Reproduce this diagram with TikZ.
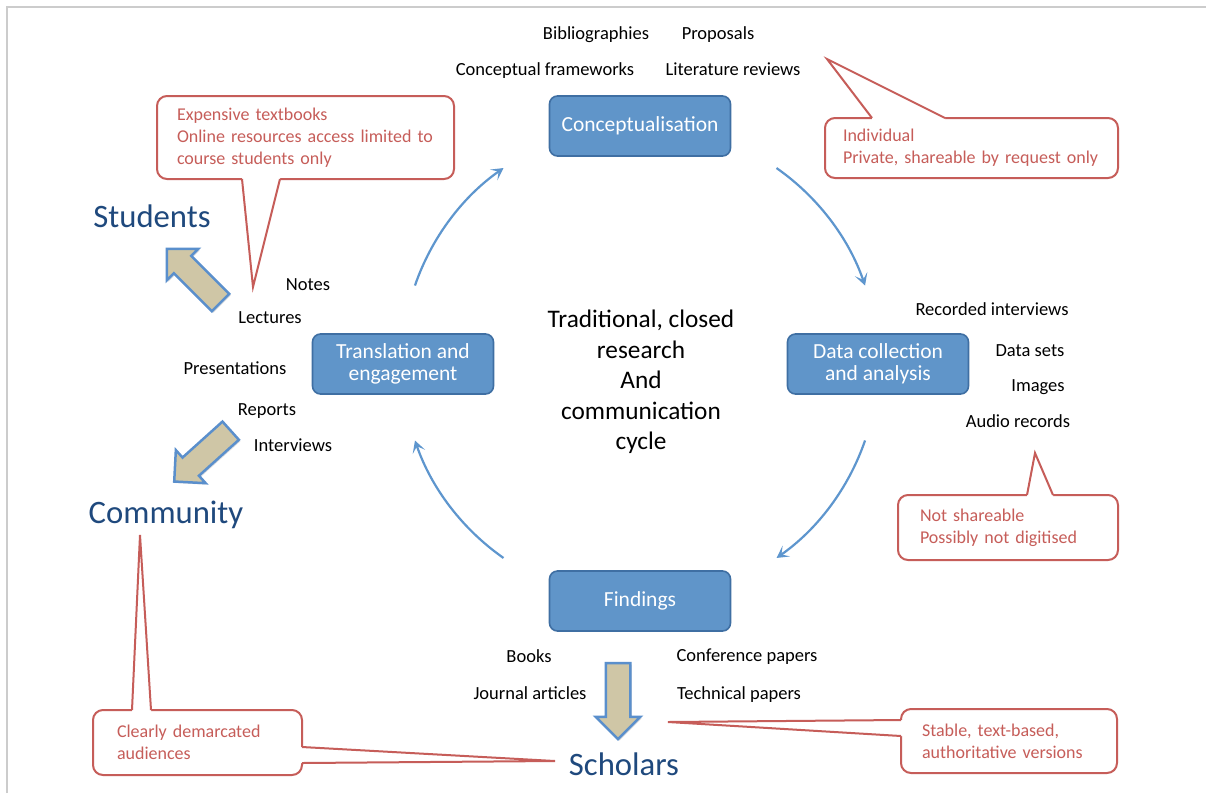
\documentclass[tikz,border=0pt]{standalone}
\usepackage{fontspec}
\setmainfont{Carlito}
\usetikzlibrary{arrows.meta,shapes.arrows,shadows,calc}

\definecolor{stagefill}{HTML}{6095C9}
\definecolor{stageline}{HTML}{3F6FA3}
\definecolor{cycleblue}{HTML}{5E96CE}
\definecolor{notered}{HTML}{C65D59}
\definecolor{audienceblue}{HTML}{1F497D}
\definecolor{arrowtan}{HTML}{CFC6A6}
\definecolor{arrowline}{HTML}{5A8FCC}
\definecolor{framegrey}{HTML}{CCCCCC}

\newcommand{\pointer}[4]{%
  \fill[white] ($(#1)+(#4)$) -- (#1) -- (#3) -- (#2) -- ($(#2)+(#4)$) -- cycle;
  \draw[notered, line width=2pt, line join=miter] (#1) -- (#3) -- (#2);}

\begin{document}
\begin{tikzpicture}[
    x=1pt, y=-1pt,
    stage/.style={rectangle, rounded corners=8pt, draw=stageline, line width=1.6pt, fill=stagefill, text=white, minimum width=181pt, minimum height=60pt, align=center, font=\fontsize{21.5}{22}\selectfont},
    item/.style={anchor=base, font=\fontsize{18.5}{22}\selectfont},
    audience/.style={anchor=base, text=audienceblue, font=\fontsize{32.7}{36}\selectfont},
    note/.style={rectangle, rounded corners=10pt, draw=notered, line width=2pt, outer sep=0pt, fill=white, text=notered, align=left, inner xsep=20pt, inner ysep=0pt, font=\fontsize{18}{22}\selectfont},
    flow/.style={draw=cycleblue, line width=2.2pt, -{Stealth[length=12pt, width=13pt, inset=6pt]}},
    bigarrow/.style={single arrow, draw=arrowline, line width=2.5pt, fill=arrowtan, inner sep=0pt, text width=0pt, text height=11pt, text depth=11pt, minimum height=76pt, single arrow head extend=10pt, single arrow head indent=0pt, drop shadow={shadow xshift=1.5pt, shadow yshift=-1.5pt, opacity=0.25}}
]
    \useasboundingbox (0,0) rectangle (1206,793);
    \fill[white] (0,0) rectangle (1206,793);
    \draw[framegrey, line width=2pt] (7,793) -- (7,7) -- (1206,7);

    \node[stage] (concept) at (640,126) {Conceptualisation};
    \node[stage] (data) at (878,364) {Data collection\\and analysis};
    \node[stage] (findings) at (640,601) {Findings};
    \node[stage] (transl) at (403,364) {Translation and\\engagement};

    \node[align=center, font=\fontsize{25.3}{30.5}\selectfont] (cycle) at (641,382) {Traditional, closed\\research\\And\\communication\\cycle};

    \coordinate (hub) at (640,363);
    \draw[flow] (hub) ++(-161:238) arc[start angle=-161, end angle=-125, radius=238];
    \draw[flow] (hub) ++(-55:238) arc[start angle=-55, end angle=-19, radius=238];
    \draw[flow] (hub) ++(19:238) arc[start angle=19, end angle=55, radius=238];
    \draw[flow] (hub) ++(125:238) arc[start angle=125, end angle=161, radius=238];

    \node[item] (bib) at (596,39) {Bibliographies};
    \node[item] (prop) at (718,39) {Proposals};
    \node[item] (cfw) at (545,75) {Conceptual frameworks};
    \node[item] (litrev) at (733,75) {Literature reviews};
    \node[item] (notes) at (308,290) {Notes};
    \node[item] (lect) at (270,323) {Lectures};
    \node[item] (pres) at (235,374) {Presentations};
    \node[item] (rep) at (267,415) {Reports};
    \node[item] (intv) at (293,451) {Interviews};
    \node[item] (recint) at (992,315) {Recorded interviews};
    \node[item] (datasets) at (1030,356) {Data sets};
    \node[item] (images) at (1038,391) {Images};
    \node[item] (audio) at (1018,427) {Audio records};
    \node[item] (books) at (529,662) {Books};
    \node[item] (journ) at (530,699) {Journal articles};
    \node[item] (conf) at (747,661) {Conference papers};
    \node[item] (tech) at (739,699) {Technical papers};

    \node[bigarrow, rotate=135] (tostudents) at (198,280) {};
    \node[bigarrow, rotate=222] (tocommunity) at (207,452) {};
    \node[bigarrow, rotate=-90] (toscholars) at (618,695) {};

    \node[audience] (students) at (152,227) {Students};
    \node[audience] (community) at (166,523) {Community};
    \node[audience] (scholars) at (624,775) {Scholars};

    \node[note, text width=257pt, minimum height=83pt] (costs) at (305.5,137.5) {Expensive textbooks\\Online resources access limited to\\course students only};
    \node[note, inner xsep=18pt, text width=257pt, minimum height=60pt] (private) at (971.5,148) {Individual\\Private, shareable by request only};
    \node[note, inner xsep=22pt, text width=176pt, minimum height=65pt] (nodigit) at (1008,527.5) {Not shareable\\Possibly not digitised};
    \node[note, inner xsep=24pt, text width=161pt, minimum height=65pt] (demarc) at (197.5,742.5) {Clearly demarcated\\audiences};
    \node[note, inner xsep=21pt, text width=174pt, minimum height=64pt] (stable) at (1009,741) {Stable, text-based,\\authoritative versions};

    \coordinate (costs-a) at ($(costs.south west)+(85,0)$);
    \coordinate (costs-b) at ($(costs.south west)+(123,0)$);
    \coordinate (costs-tip) at (253,287);
    \pointer{costs-a}{costs-b}{costs-tip}{0,-4}
    \coordinate (private-a) at ($(private.north west)+(47,0)$);
    \coordinate (private-b) at ($(private.north west)+(120,0)$);
    \coordinate (private-tip) at (827,59);
    \pointer{private-a}{private-b}{private-tip}{0,4}
    \coordinate (nodigit-a) at ($(nodigit.north west)+(129,0)$);
    \coordinate (nodigit-b) at ($(nodigit.north west)+(155,0)$);
    \coordinate (nodigit-tip) at (1035,453);
    \pointer{nodigit-a}{nodigit-b}{nodigit-tip}{0,4}
    \coordinate (demarc-a) at ($(demarc.north west)+(39,0)$);
    \coordinate (demarc-b) at ($(demarc.north west)+(58,0)$);
    \coordinate (demarc-tip) at (140,535);
    \pointer{demarc-a}{demarc-b}{demarc-tip}{0,4}
    \coordinate (demarc-c) at ($(demarc.north east)+(0,37)$);
    \coordinate (demarc-d) at ($(demarc.north east)+(0,53)$);
    \coordinate (demarc-tip2) at (555,761);
    \pointer{demarc-c}{demarc-d}{demarc-tip2}{-4,0}
    \coordinate (stable-a) at ($(stable.north west)+(0,11)$);
    \coordinate (stable-b) at ($(stable.north west)+(0,27)$);
    \coordinate (stable-tip) at (668,722);
    \pointer{stable-a}{stable-b}{stable-tip}{4,0}
\end{tikzpicture}
\end{document}
